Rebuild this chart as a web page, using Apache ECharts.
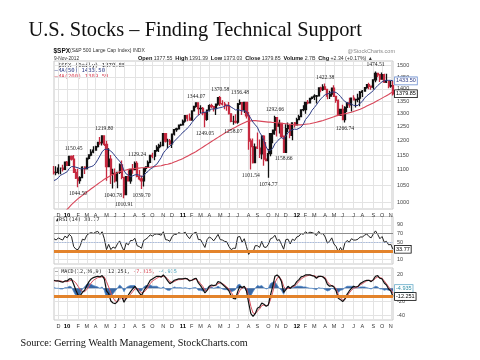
<!DOCTYPE html>
<html><head><meta charset="utf-8">
<script src="https://cdn.jsdelivr.net/npm/echarts@6/dist/echarts.min.js"></script>
<style>html,body{margin:0;padding:0;background:#fff}#c{width:480px;height:360px}</style>
</head><body><div id="c"></div>
<script>
// ---------- data (weekly) ----------
const dates = [
"2009-11-20","2009-11-27","2009-12-04","2009-12-11","2009-12-18","2009-12-25",
"2010-01-01","2010-01-08","2010-01-15","2010-01-22","2010-01-29","2010-02-05","2010-02-12","2010-02-19","2010-02-26","2010-03-05","2010-03-12","2010-03-19","2010-03-26","2010-04-02","2010-04-09","2010-04-16","2010-04-23","2010-04-30","2010-05-07","2010-05-14","2010-05-21","2010-05-28","2010-06-04","2010-06-11","2010-06-18","2010-06-25","2010-07-02","2010-07-09","2010-07-16","2010-07-23","2010-07-30","2010-08-06","2010-08-13","2010-08-20","2010-08-27","2010-09-03","2010-09-10","2010-09-17","2010-09-24","2010-10-01","2010-10-08","2010-10-15","2010-10-22","2010-10-29","2010-11-05","2010-11-12","2010-11-19","2010-11-26","2010-12-03","2010-12-10","2010-12-17","2010-12-24","2010-12-31",
"2011-01-07","2011-01-14","2011-01-21","2011-01-28","2011-02-04","2011-02-11","2011-02-18","2011-02-25","2011-03-04","2011-03-11","2011-03-18","2011-03-25","2011-04-01","2011-04-08","2011-04-15","2011-04-22","2011-04-29","2011-05-06","2011-05-13","2011-05-20","2011-05-27","2011-06-03","2011-06-10","2011-06-17","2011-06-24","2011-07-01","2011-07-08","2011-07-15","2011-07-22","2011-07-29","2011-08-05","2011-08-12","2011-08-19","2011-08-26","2011-09-02","2011-09-09","2011-09-16","2011-09-23","2011-09-30","2011-10-07","2011-10-14","2011-10-21","2011-10-28","2011-11-04","2011-11-11","2011-11-18","2011-11-25","2011-12-02","2011-12-09","2011-12-16","2011-12-23","2011-12-30",
"2012-01-06","2012-01-13","2012-01-20","2012-01-27","2012-02-03","2012-02-10","2012-02-17","2012-02-24","2012-03-02","2012-03-09","2012-03-16","2012-03-23","2012-03-30","2012-04-06","2012-04-13","2012-04-20","2012-04-27","2012-05-04","2012-05-11","2012-05-18","2012-05-25","2012-06-01","2012-06-08","2012-06-15","2012-06-22","2012-06-29","2012-07-06","2012-07-13","2012-07-20","2012-07-27","2012-08-03","2012-08-10","2012-08-17","2012-08-24","2012-08-31","2012-09-07","2012-09-14","2012-09-21","2012-09-28","2012-10-05","2012-10-12","2012-10-19","2012-10-26","2012-11-02","2012-11-09"];

const firstOpen = 1093;
const closeP = [1091,1092,1106,1106,1102,1126,
1115,1145,1136,1092,1074,1066,1075,1109,1104,1139,1150,1160,1167,1179,1194,1192,1217,1187,1111,1136,1087,1089,1065,1092,1117,1076,1022,1078,1065,1102,1101,1122,1079,1071,1065,1105,1110,1125,1149,1146,1165,1176,1183,1183,1225,1199,1199,1189,1224,1240,1243,1257,1258,
1272,1293,1283,1276,1311,1329,1343,1320,1321,1304,1279,1314,1332,1328,1320,1338,1364,1340,1338,1333,1331,1300,1271,1271,1268,1339,1344,1316,1345,1292,1199,1179,1124,1177,1174,1154,1216,1136,1131,1155,1225,1238,1285,1253,1263,1216,1159,1244,1255,1219,1265,1258,
1278,1289,1315,1316,1345,1343,1361,1366,1370,1371,1404,1397,1408,1398,1370,1378,1403,1369,1353,1295,1317,1278,1325,1343,1335,1362,1355,1357,1362,1386,1391,1405,1418,1411,1407,1438,1466,1460,1441,1461,1428,1433,1412,1414,1379.85];
const highP = [1113,1112,1119,1108,1117,1127,
1130,1145,1148,1150.45,1103,1104,1080,1112,1112,1139,1151,1170,1180,1182,1195,1213,1218,1219.80,1200,1173,1150,1104,1105,1092,1121,1131,1074,1078,1099,1103,1120,1128,1129.24,1100,1082,1105,1110,1131,1149,1158,1167,1184,1189,1196,1227,1227,1207,1206,1225,1241,1247,1259,1262,
1278,1294,1296,1301,1311,1330,1344.07,1342,1333,1327,1301,1314,1337,1339,1329,1339,1364,1370.58,1353,1346,1334,1346,1301,1292,1298,1342,1356.48,1344,1347,1346,1307,1208,1208,1190,1230,1204,1220,1220,1195,1171,1226,1240,1292.66,1284,1277,1266,1208,1260,1267,1260,1268,1269,
1285,1296,1316,1333,1346,1354,1363,1368,1378,1375,1405,1409,1419,1422.38,1399,1392,1406,1415,1372,1356,1320,1335,1329,1344,1364,1363,1374,1359,1380,1391,1395,1407,1419,1426,1414,1439,1474.51,1467,1457,1470,1464,1464,1435,1434,1433];
const lowP = [1085,1083,1086,1086,1095,1102,
1114,1116,1131,1090,1071,1044.50,1056,1076,1087,1104,1135,1146,1156,1165,1176,1186,1183,1181,1065,1125,1055,1040.78,1060,1042,1087,1070,1010.91,1025,1063,1056,1088,1107,1076,1067,1039.70,1047,1094,1111,1122,1139,1132,1161,1160,1177,1180,1194,1173,1185,1174,1219,1232,1242,1254,
1258,1266,1271,1275,1276,1311,1324,1294,1303,1294,1249.05,1273,1309,1322,1309,1295,1331,1330,1332,1318,1312,1298,1268,1258.07,1263,1262,1334,1295,1303,1282,1168,1101.54,1121,1122,1171,1140,1136,1114,1129,1074.77,1146,1191,1221,1215,1226,1209,1158.66,1164,1231,1209,1202,1248,
1258,1275,1287,1310,1300,1337,1340,1356,1354,1340,1370,1386,1391,1395,1357,1358,1368,1367,1343,1291,1291,1277,1266.74,1307,1324,1309,1352,1325,1345,1329,1367,1389,1400,1398,1396,1397,1428,1450,1429,1438,1425,1425,1403,1405,1373];
const ma50 = [1066,1069,1075,1083,1086,1090,
1094,1105,1111,1111,1109,1107,1104,1104,1104,1106,1109,1111,1114,1122,1134,1147,1161,1169,1170,1169,1163,1156,1146,1137,1129,1118,1098,1087,1083,1079,1081,1084,1085,1083,1078,1081,1090,1095,1103,1107,1114,1119,1130,1141,1157,1166,1175,1181,1189,1198,1206,1214,1222,
1231,1237,1246,1254,1266,1276,1287,1294,1301,1305,1306,1308,1313,1318,1319,1320,1322,1324,1326,1329,1334,1332,1326,1321,1315,1316,1314,1311,1312,1308,1295,1282,1268,1258,1249,1230,1218,1200,1178,1165,1167,1173,1189,1197,1206,1212,1206,1217,1229,1236,1240,1242,
1241,1245,1250,1260,1278,1288,1299,1314,1324,1335,1348,1359,1368,1376,1379,1382,1387,1387,1385,1378,1369,1357,1349,1343,1340,1338,1333,1332,1333,1342,1349,1362,1371,1378,1385,1393,1404,1414,1422,1430,1434,1436,1436,1436,1433.5];
const ma200 = [935,942,950,957,964,971,
978,985,992,998,1004,1010,1015,1020,1025,1030,1035,1040,1045,1050,1055,1060,1065,1070,1074,1078,1082,1085,1088,1091,1094,1096,1098,1100,1102,1103,1104,1105,1106,1106,1107,1107,1108,1108,1109,1110,1111,1112,1113,1114,1116,1118,1119,1121,1123,1126,1129,1132,1135,
1138,1142,1146,1150,1154,1158,1162,1167,1172,1177,1182,1187,1192,1197,1202,1207,1212,1217,1222,1227,1232,1237,1241,1245,1249,1254,1258,1262,1266,1270,1272,1273,1274,1274,1273,1272,1271,1270,1269,1268,1268,1267,1267,1266,1265,1264,1263,1262,1261,1260,1259,1258,
1258,1258,1258,1259,1260,1261,1262,1264,1266,1268,1270,1272,1274,1277,1280,1283,1286,1289,1292,1294,1296,1298,1300,1302,1304,1306,1309,1312,1315,1318,1322,1326,1330,1334,1338,1342,1347,1352,1357,1362,1367,1372,1377,1383,1389.59];
const rsi = [58,55,60,57,55,64,
60,68,63,40,34,33,42,57,55,66,70,72,70,73,75,68,74,58,33,45,33,39,36,46,53,40,30,48,44,54,54,59,42,40,36,54,57,61,67,64,68,69,68,66,74,56,55,52,63,68,68,72,70,
70,73,64,58,67,71,73,56,56,47,38,56,62,59,53,60,68,56,55,52,51,40,33,36,36,62,63,50,58,40,22,30,27,42,42,38,52,39,38,45,58,60,66,54,56,45,34,56,57,46,57,54,
62,64,70,68,74,70,73,72,70,65,75,69,70,62,48,52,60,46,40,28,38,29,48,54,50,58,55,55,57,62,62,66,69,63,60,69,76,68,58,63,50,52,44,45,33.77];
const macd = [12,11,11,10,9,11,
11,14,14,6,-3,-10,-11,-6,-3,4,10,14,16,17,18,17,19,14,-4,-8,-19,-22,-23,-20,-12,-12,-21,-15,-10,-5,-1,3,-2,-7,-11,-4,1,6,12,14,16,18,18,17,20,16,11,7,9,12,13,14,14,
14,15,14,11,12,14,15,8,4,-1,-7,-3,3,5,4,5,10,9,6,3,0,-4,-11,-15,-16,-5,3,1,3,-4,-22,-38,-42,-38,-30,-28,-22,-24,-27,-25,-10,3,18,20,17,10,-6,-2,3,0,3,5,
10,13,17,18,20,20,20,19,18,15,18,18,17,14,6,3,4,2,-4,-15,-17,-20,-16,-9,-4,0,3,2,3,7,9,11,12,12,10,13,18,19,15,14,8,5,-1,-4,-12.251];
const signal = [11,11,11,11,10,10,
10,11,12,11,8,3,-2,-5,-5,-2,3,8,12,14,16,17,17,17,10,2,-7,-14,-19,-20,-17,-14,-16,-16,-13,-9,-5,-1,0,-3,-7,-6,-3,2,7,11,13,15,17,17,18,17,14,10,9,10,12,13,13,
14,14,14,12,12,13,14,11,7,3,-3,-3,0,3,4,4,7,8,7,5,2,-1,-6,-11,-14,-10,-3,0,2,0,-12,-27,-37,-38,-34,-31,-26,-25,-26,-25,-17,-6,8,15,17,13,3,-2,0,0,2,3,
7,10,14,16,18,19,20,19,19,17,17,18,17,16,10,6,4,3,-1,-9,-14,-18,-17,-12,-7,-3,0,1,2,5,7,9,11,12,11,12,15,17,16,15,11,7,2,-2,-7.315];
const highMarks = ["2010-01-22","2010-04-30","2010-08-13","2011-02-18","2011-05-06","2011-07-08","2011-10-28","2012-04-06","2012-09-14"];
const lowMarks  = ["2010-02-05","2010-05-28","2010-07-02","2010-08-27","2011-03-18","2011-06-17","2011-08-12","2011-10-07","2011-11-25","2012-06-08"];
const priceTicks = [1000,1050,1100,1150,1200,1250,1300,1350,1400,1450,1500];
const rsiTicks = [10,30,50,70,90];
const macdTicks = [-40,-20,0,20];
const monthLetters = ['J','F','M','A','M','J','J','A','S','O','N','D'];

// ---------- build ----------
const candles = dates.map((d, i) => [i === 0 ? firstOpen : closeP[i - 1], closeP[i], lowP[i], highP[i]]);
const hist = macd.map((v, i) => +(v - signal[i]).toFixed(3)); // MACD histogram = MACD - signal
const monthStart = (i) => i > 0 && dates[i].slice(5, 7) !== dates[i - 1].slice(5, 7);
const SANS = '"Liberation Sans", Arial, sans-serif';
const MONO = '"DejaVu Sans Mono", "Liberation Mono", monospace';
const SERIF = '"Liberation Serif", "Times New Roman", serif';

function xAxisFor(gi, showLabels) {
  return {
    type: 'category', gridIndex: gi, data: dates, boundaryGap: false,
    axisLine: {show: false}, axisTick: {show: false},
    axisLabel: {
      show: showLabels, interval: (i) => monthStart(i), margin: 3, fontSize: 5.5, color: '#333', fontFamily: SANS,
      formatter: (v) => { const m = +v.slice(5, 7); return m === 1 ? '{y|' + v.slice(2, 4) + '}' : monthLetters[m - 1]; },
      rich: {y: {fontWeight: 'bold', fontSize: 6, color: '#000', fontFamily: SANS}}
    },
    splitLine: {show: true, interval: (i) => monthStart(i), lineStyle: {color: '#e3e3e3', width: 1}}
  };
}
function yAxisFor(gi, type, min, max, ticks) {
  return {
    type: type, gridIndex: gi, position: 'right', min: min, max: max, scale: true,
    axisLine: {show: false},
    axisTick: {show: false, customValues: ticks},
    axisLabel: {customValues: ticks, formatter: (v) => String(v), fontSize: 5.5, color: '#444', margin: 4, fontFamily: SANS},
    splitLine: {show: true, customValues: ticks, lineStyle: {color: '#e3e3e3', width: 1}}
  };
}
function box(txt, color, border, offY) {
  return {show: true, position: 'end', distance: 2, formatter: txt, fontSize: 5.5, fontFamily: SANS, opacity: 1,
    color: color, backgroundColor: '#fff', borderColor: border, borderWidth: 0.8, padding: [1, 1, 0, 1],
    offset: [0, offY || 0]};
}
const hidden = {color: 'rgba(0,0,0,0)', width: 1, opacity: 1};

const markPts = [];
highMarks.forEach(d => { const i = dates.indexOf(d); markPts.push({coord: [d, highP[i]], value: highP[i].toFixed(2), label: {position: 'top'}}); });
lowMarks.forEach(d => { const i = dates.indexOf(d); markPts.push({coord: [d, lowP[i]], value: lowP[i].toFixed(2), label: {position: 'bottom'}}); });

const chart = echarts.init(document.getElementById('c'), null, {renderer: 'canvas'});
chart.setOption({
  animation: false,
  backgroundColor: '#fff',
  grid: [
    {left: 54, right: 87, top: 61, height: 148, show: true, borderColor: '#c8c8c8', borderWidth: 1},
    {left: 54, right: 87, top: 216.5, height: 47.5, show: true, borderColor: '#c8c8c8', borderWidth: 1},
    {left: 54, right: 87, top: 268, height: 52, show: true, borderColor: '#c8c8c8', borderWidth: 1}
  ],
  xAxis: [xAxisFor(0, true), xAxisFor(1, false), xAxisFor(2, true)],
  yAxis: [
    Object.assign(yAxisFor(0, 'log', 979.4, 1521, priceTicks), {logBase: 10}),
    yAxisFor(1, 'value', 0, 109, rsiTicks),
    yAxisFor(2, 'value', -47.5, 30.4, macdTicks)
  ],
  series: [
    {type: 'candlestick', xAxisIndex: 0, yAxisIndex: 0, data: candles, barWidth: 1.6, z: 3,
      itemStyle: {color: '#111', color0: '#c62a40', borderColor: '#111', borderColor0: '#c62a40', borderWidth: 1.3},
      markPoint: {silent: true, symbol: 'circle', symbolSize: 1, itemStyle: {color: 'rgba(0,0,0,0)'},
        label: {show: true, formatter: '{c}', fontSize: 5.6, color: '#222', fontFamily: SERIF, distance: 3},
        data: markPts},
      markLine: {silent: true, symbol: 'none', label: {show: false}, z: 10,
        data: [{yAxis: 1379.85, lineStyle: hidden, label: box('1379.85', '#000', '#000')}]}
    },
    {type: 'line', xAxisIndex: 0, yAxisIndex: 0, data: ma200, showSymbol: false, z: 4, lineStyle: {color: '#d8475a', width: 1.1}},
    {type: 'line', xAxisIndex: 0, yAxisIndex: 0, data: ma50, showSymbol: false, z: 5, lineStyle: {color: '#2c3b86', width: 1},
      markLine: {silent: true, symbol: 'none', label: {show: false}, z: 10,
        data: [{yAxis: 1433.50, lineStyle: hidden, label: box('1433.50', '#2c3b86', '#6d8fd0')}]}
    },
    {type: 'line', xAxisIndex: 1, yAxisIndex: 1, data: rsi, showSymbol: false, lineStyle: {color: '#222', width: 1},
      markLine: {silent: true, symbol: 'none', label: {show: false},
        data: [
          {yAxis: 70, lineStyle: {color: '#8c8c8c', width: 1, type: 'solid'}},
          {yAxis: 50, lineStyle: {color: '#86a3d8', width: 0.8, type: 'dotted'}},
          {yAxis: 30, lineStyle: {color: '#e3832b', width: 3, type: 'solid'}},
          {yAxis: 33.77, lineStyle: hidden, label: box('33.77', '#000', '#000')}
        ]}
    },
    {type: 'line', xAxisIndex: 2, yAxisIndex: 2, data: hist, showSymbol: false,
      lineStyle: {color: '#4f86c6', width: 0.8}, areaStyle: {color: '#2d5f9f', opacity: 0.95}},
    {type: 'line', xAxisIndex: 2, yAxisIndex: 2, data: signal, showSymbol: false, lineStyle: {color: '#d9505c', width: 1}},
    {type: 'line', xAxisIndex: 2, yAxisIndex: 2, data: macd, showSymbol: false, lineStyle: {color: '#111', width: 1.2},
      markLine: {silent: true, symbol: 'none', label: {show: false},
        data: [
          {yAxis: -12.251, lineStyle: {color: '#e3832b', width: 3, type: 'solid'}},
          {yAxis: -4.935, lineStyle: hidden, label: box('-4.935', '#2e8fa8', '#6aaecb', -3)},
          {yAxis: -12.251, lineStyle: hidden, label: box('-12.251', '#000', '#000')}
        ]}
    }
  ],
  graphic: [
    {type: 'text', x: 28.5, y: 31, style: {text: 'U.S. Stocks \u2013 Finding Technical Support', font: '20.4px ' + SERIF, fill: '#111', verticalAlign: 'middle'}},
    {type: 'text', x: 53.5, y: 51, style: {text: '$SPX', font: 'bold 6.5px ' + SANS, fill: '#111', verticalAlign: 'middle'}},
    {type: 'text', x: 70, y: 51, style: {text: '(S&P 500 Large Cap Index) INDX', font: '5px ' + SANS, fill: '#333', verticalAlign: 'middle'}},
    {type: 'text', x: 395, y: 51.5, style: {text: '@StockCharts.com', font: '5.5px ' + SANS, fill: '#8a8a8a', align: 'right', verticalAlign: 'middle'}},
    {type: 'text', x: 54, y: 58.5, style: {text: '9-Nov-2012', font: '4.8px ' + SANS, fill: '#333', verticalAlign: 'middle'}},
    {type: 'text', x: 138, y: 58.5, style: {
      text: '{b|Open} 1377.55  {b|High} 1391.39  {b|Low} 1373.03  {b|Close} 1379.85  {b|Volume} 2.7B  {b|Chg} +2.34 (+0.17%) \u25B2',
      font: '5.2px ' + SANS, fill: '#333', verticalAlign: 'middle',
      rich: {b: {fontWeight: 'bold', fontSize: 5.6, fontFamily: SANS, fill: '#111'}}}},
    {type: 'text', x: 58, y: 65.5, style: {text: '$SPX (Daily) 1379.85', font: '5.6px ' + MONO, fill: '#222', verticalAlign: 'middle'}},
    {type: 'text', x: 54.5, y: 71, style: {text: '\u2014MA(50) 1433.50', font: '5.6px ' + MONO, fill: '#2c3b86', verticalAlign: 'middle'}},
    {type: 'text', x: 54.5, y: 76.5, style: {text: '\u2014MA(200) 1389.59', font: '5.6px ' + MONO, fill: '#d8475a', verticalAlign: 'middle'}},
    {type: 'text', x: 56, y: 220, style: {text: '\u25B2RSI(14) 33.77', font: '5.2px ' + MONO, fill: '#222', verticalAlign: 'middle'}},
    {type: 'text', x: 55, y: 272, style: {
      text: '\u2014 MACD(12,26,9) -12.251, {r|-7.315,} {t|-4.935}', font: '5.2px ' + MONO, fill: '#222', verticalAlign: 'middle',
      rich: {r: {fill: '#d9505c', fontSize: 5.2, fontFamily: MONO}, t: {fill: '#3a9bb5', fontSize: 5.2, fontFamily: MONO}}}},
    {type: 'text', x: 20.5, y: 343.5, style: {text: 'Source: Gerring Wealth Management, StockCharts.com', font: '10.2px ' + SERIF, fill: '#111', verticalAlign: 'middle'}}
  ]
});
</script>
</body></html>
